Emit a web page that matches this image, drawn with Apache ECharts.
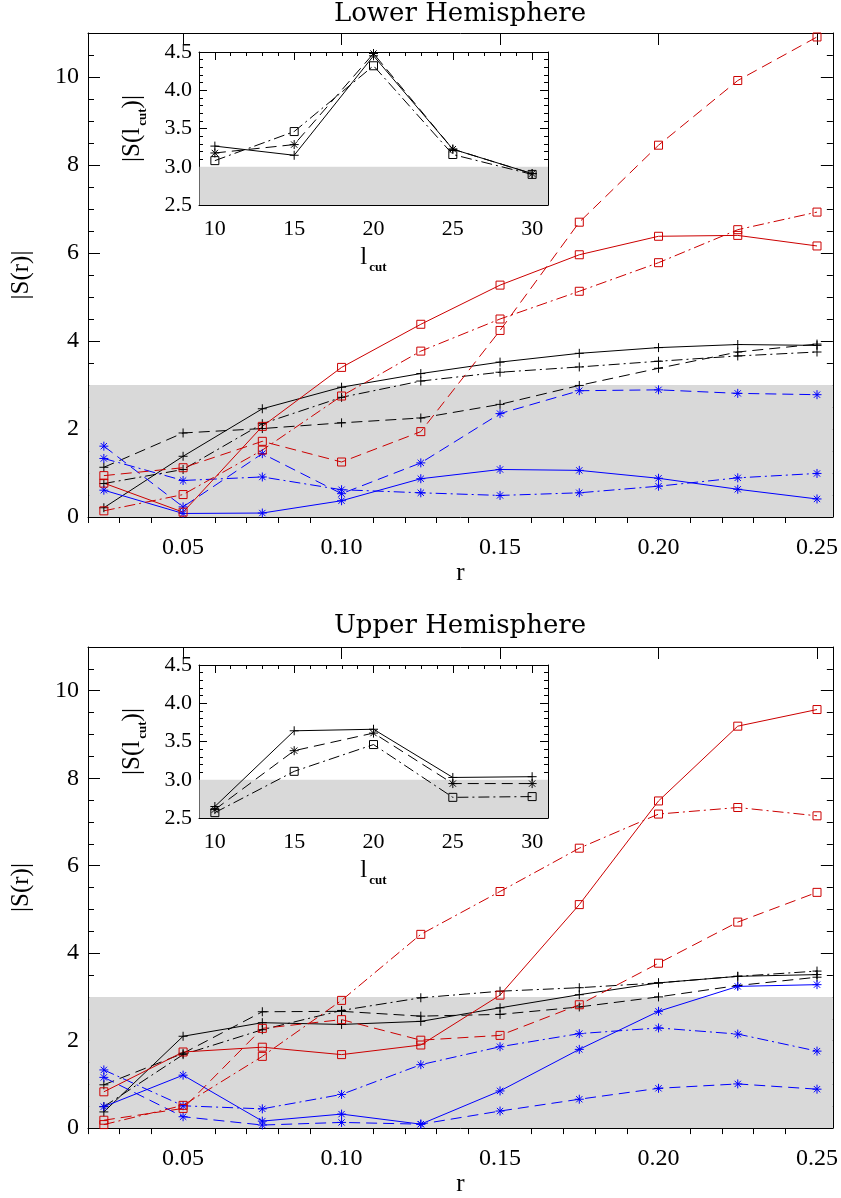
<!DOCTYPE html>
<html>
<head>
<meta charset="utf-8">
<script src="https://cdn.jsdelivr.net/npm/echarts@6/dist/echarts.min.js"></script>
<style>
  html, body { margin: 0; padding: 0; background: #fff; }
  #chart { width: 841px; height: 1198px; }
</style>
</head>
<body>
<div id="chart"></div>
<script>
// Radial positions and l_cut values
const rValues = [0.025, 0.05, 0.075, 0.1, 0.125, 0.15, 0.175, 0.2, 0.225, 0.25];
const lcutValues = [10, 15, 20, 25, 30];

// Lower hemisphere |S(r)|
const lowerBlackSolid   = [0.21, 1.38, 2.46, 2.95, 3.26, 3.52, 3.72, 3.85, 3.92, 3.90];
const lowerBlackDashed  = [1.13, 1.91, 2.01, 2.14, 2.25, 2.56, 2.99, 3.38, 3.75, 3.93];
const lowerBlackDashDot = [0.76, 1.08, 2.12, 2.72, 3.09, 3.29, 3.41, 3.54, 3.66, 3.75];
const lowerBlueSolid    = [0.61, 0.08, 0.09, 0.37, 0.87, 1.08, 1.06, 0.88, 0.63, 0.41];
const lowerBlueDashed   = [1.61, 0.23, 1.44, 0.53, 1.23, 2.35, 2.87, 2.89, 2.81, 2.78];
const lowerBlueDashDot  = [1.33, 0.83, 0.91, 0.62, 0.55, 0.49, 0.55, 0.70, 0.89, 0.99];
const lowerRedSolid     = [0.77, 0.11, 2.06, 3.40, 4.38, 5.27, 5.96, 6.38, 6.40, 6.16];
const lowerRedDashed    = [0.94, 1.12, 1.72, 1.25, 1.94, 4.24, 6.70, 8.45, 9.92, 10.91];
const lowerRedDashDot   = [0.14, 0.51, 1.52, 2.75, 3.77, 4.50, 5.13, 5.78, 6.53, 6.93];

// Upper hemisphere |S(r)|
const upperBlackSolid   = [0.37, 2.10, 2.41, 2.37, 2.44, 2.75, 3.05, 3.32, 3.47, 3.51];
const upperBlackDashed  = [0.99, 1.71, 2.66, 2.67, 2.56, 2.60, 2.77, 3.00, 3.26, 3.45];
const upperBlackDashDot = [0.49, 1.68, 2.25, 2.69, 2.98, 3.13, 3.21, 3.32, 3.47, 3.59];
const upperBlueSolid    = [0.49, 1.21, 0.16, 0.32, 0.09, 0.85, 1.80, 2.67, 3.24, 3.28];
const upperBlueDashed   = [1.16, 0.26, 0.07, 0.13, 0.09, 0.39, 0.66, 0.91, 1.01, 0.89];
const upperBlueDashDot  = [1.33, 0.51, 0.44, 0.77, 1.45, 1.86, 2.16, 2.29, 2.15, 1.76];
const upperRedSolid     = [0.83, 1.74, 1.85, 1.68, 1.90, 3.04, 5.11, 7.48, 9.19, 9.57];
const upperRedDashed    = [0.18, 0.45, 2.28, 2.48, 2.01, 2.12, 2.82, 3.77, 4.71, 5.39];
const upperRedDashDot   = [0.08, 0.52, 1.64, 2.92, 4.43, 5.41, 6.40, 7.18, 7.33, 7.14];

// |S(l_cut)| insets
const lowerInsetSolid   = [3.27, 3.15, 4.45, 3.23, 2.91];
const lowerInsetDashed  = [3.18, 3.29, 4.48, 3.23, 2.91];
const lowerInsetDashDot = [3.08, 3.46, 4.32, 3.16, 2.90];
const upperInsetSolid   = [2.65, 3.64, 3.66, 3.03, 3.04];
const upperInsetDashed  = [2.61, 3.38, 3.61, 2.95, 2.95];
const upperInsetDashDot = [2.57, 3.11, 3.46, 2.77, 2.78];

// Tick values
const rMajorTicks = [0.05, 0.10, 0.15, 0.20, 0.25];
const rMinorTicks = [0.02, 0.03, 0.04, 0.06, 0.07, 0.08, 0.09, 0.11, 0.12, 0.13, 0.14,
                     0.16, 0.17, 0.18, 0.19, 0.21, 0.22, 0.23, 0.24];
const sMajorTicks = [0, 2, 4, 6, 8, 10];
const sMinorTicks = [0.5, 1, 1.5, 2.5, 3, 3.5, 4.5, 5, 5.5, 6.5, 7, 7.5, 8.5, 9, 9.5, 10.5];
const lcutMajorTicks = [10, 15, 20, 25, 30];
const lcutMinorTicks = [9, 11, 12, 13, 14, 16, 17, 18, 19, 21, 22, 23, 24, 26, 27, 28, 29, 31];
const insetMajorTicks = [2.5, 3.0, 3.5, 4.0, 4.5];
const insetMinorTicks = [2.6, 2.7, 2.8, 2.9, 3.1, 3.2, 3.3, 3.4, 3.6, 3.7, 3.8, 3.9, 4.1, 4.2, 4.3, 4.4];

const FONT = 'Liberation Serif';
const TITLE_FONT = 'DejaVu Serif';
const RED = '#cc0000', BLUE = '#0000ff', BLACK = '#000000', BAND = '#d9d9d9';
const DASHED = [11, 6];
const DASHDOT = [11, 4, 2, 4];

const R_RANGE = [0.02, 0.255], S_RANGE = [0, 11];
const L_RANGE = [9, 31], SI_RANGE = [2.5, 4.5];

// Marker shapes
const PLUS = 'path://M5,0L5,10M0,5L10,5';
const STAR = 'path://M5,0L5,10M0,5L10,5M1.5,1.5L8.5,8.5M1.5,8.5L8.5,1.5';
const SQUARE = 'rect';

const grids = [
  { left: 88, top: 33, width: 745, height: 484 },
  { left: 199, top: 52, width: 349, height: 153, show: true, backgroundColor: '#fff', borderWidth: 0 },
  { left: 88, top: 647, width: 745, height: 483 },
  { left: 199, top: 665, width: 349, height: 153, show: true, backgroundColor: '#fff', borderWidth: 0 }
];

const xAxes = [], yAxes = [];

// Four axes per dimension: labelled side (major + minor ticks) and mirrored side.
function addAxes(list, gridIndex, sides, range, major, minor, tickLen, labelOpt, nameOpt) {
  const base = { gridIndex, type: 'value', min: range[0], max: range[1],
                 splitLine: { show: false }, axisPointer: { show: false } };
  const lineOn = { show: true, onZero: false, lineStyle: { color: '#000', width: 1 } };
  const tick = (vals, len) => ({ show: true, inside: true, length: len, customValues: vals,
                                 lineStyle: { color: '#000', width: 1 } });
  const primary = list.length;
  list.push(Object.assign({}, base, {
    position: sides[0], axisLine: lineOn, axisTick: tick(major, tickLen[0]),
    axisLabel: Object.assign({ show: true, customValues: major, color: '#000', fontFamily: FONT }, labelOpt)
  }, nameOpt || {}));
  list.push(Object.assign({}, base, {
    position: sides[0], axisLine: { show: false }, axisTick: tick(minor, tickLen[1]), axisLabel: { show: false }
  }));
  list.push(Object.assign({}, base, {
    position: sides[1], axisLine: lineOn, axisTick: tick(major, tickLen[0]), axisLabel: { show: false }
  }));
  list.push(Object.assign({}, base, {
    position: sides[1], axisLine: { show: false }, axisTick: tick(minor, tickLen[1]), axisLabel: { show: false }
  }));
  return primary;
}

const nameText = { color: '#000', fontFamily: FONT, fontSize: 25 };
const insetName = {
  rich: {
    m: { fontFamily: FONT, fontSize: 25, color: '#000', lineHeight: 25, verticalAlign: 'top' },
    s: { fontFamily: FONT, fontSize: 13, fontWeight: 'bold', color: '#000', lineHeight: 13,
         verticalAlign: 'top', padding: [16, 0, 0, 2] }
  }
};

function mainAxes(gridIndex, labelMargin, nameGapX) {
  const xi = addAxes(xAxes, gridIndex, ['bottom', 'top'], R_RANGE, rMajorTicks, rMinorTicks, [12, 6],
    { fontSize: 24, margin: labelMargin, formatter: v => v.toFixed(2) },
    { name: 'r', nameLocation: 'middle', nameGap: nameGapX, nameTextStyle: nameText });
  const yi = addAxes(yAxes, gridIndex, ['left', 'right'], S_RANGE, sMajorTicks, sMinorTicks, [12, 6],
    { fontSize: 24, margin: 9, formatter: v => String(v) },
    { name: '|S(r)|', nameLocation: 'middle', nameGap: 54, nameRotate: 90, nameTextStyle: nameText });
  return [xi, yi];
}

function insetAxes(gridIndex) {
  const xi = addAxes(xAxes, gridIndex, ['bottom', 'top'], L_RANGE, lcutMajorTicks, lcutMinorTicks, [8, 4],
    { fontSize: 22, margin: 13, formatter: v => String(v) },
    { name: '{m|l}{s|cut}', nameLocation: 'middle', nameGap: 40, nameTextStyle: insetName });
  const yi = addAxes(yAxes, gridIndex, ['left', 'right'], SI_RANGE, insetMajorTicks, insetMinorTicks, [8, 4],
    { fontSize: 22, margin: 7, formatter: v => v.toFixed(1) },
    { name: '{m||S(l}{s|cut}{m|)|}', nameLocation: 'middle', nameGap: 54, nameRotate: 90,
      nameTextStyle: insetName });
  return [xi, yi];
}

const [lowX, lowY] = mainAxes(0, 19, 42);
const [lowIX, lowIY] = insetAxes(1);
const [upX, upY] = mainAxes(2, 19, 42);
const [upIX, upIY] = insetAxes(3);

function curve(xi, yi, xs, ys, color, dash, symbol) {
  const square = symbol === SQUARE;
  return {
    type: 'line', xAxisIndex: xi, yAxisIndex: yi, z: 3,
    data: xs.map((x, i) => [x, ys[i]]),
    symbol: symbol, symbolSize: square ? 8 : 9, showSymbol: true,
    lineStyle: { color: color, width: 1, type: dash },
    itemStyle: { color: square ? 'rgba(0,0,0,0)' : color, borderColor: color, borderWidth: 1 },
    emphasis: { disabled: true }, silent: true, animation: false
  };
}

function band(xi, yi, xr, y0, y1) {
  return {
    type: 'line', xAxisIndex: xi, yAxisIndex: yi, z: 1, data: [], silent: true, animation: false,
    markArea: { silent: true, animation: false, itemStyle: { color: BAND, borderWidth: 0 },
      data: [[{ xAxis: xr[0] + (xr[1] - xr[0]) * 0.0015, yAxis: y0 }, { xAxis: xr[1], yAxis: y1 }]] }
  };
}

const series = [
  band(lowX, lowY, R_RANGE, 0, 3),
  curve(lowX, lowY, rValues, lowerBlackSolid, BLACK, 'solid', PLUS),
  curve(lowX, lowY, rValues, lowerBlackDashed, BLACK, DASHED, PLUS),
  curve(lowX, lowY, rValues, lowerBlackDashDot, BLACK, DASHDOT, PLUS),
  curve(lowX, lowY, rValues, lowerBlueSolid, BLUE, 'solid', STAR),
  curve(lowX, lowY, rValues, lowerBlueDashed, BLUE, DASHED, STAR),
  curve(lowX, lowY, rValues, lowerBlueDashDot, BLUE, DASHDOT, STAR),
  curve(lowX, lowY, rValues, lowerRedSolid, RED, 'solid', SQUARE),
  curve(lowX, lowY, rValues, lowerRedDashed, RED, DASHED, SQUARE),
  curve(lowX, lowY, rValues, lowerRedDashDot, RED, DASHDOT, SQUARE),

  band(lowIX, lowIY, L_RANGE, 2.5, 3.0),
  curve(lowIX, lowIY, lcutValues, lowerInsetSolid, BLACK, 'solid', PLUS),
  curve(lowIX, lowIY, lcutValues, lowerInsetDashed, BLACK, DASHED, STAR),
  curve(lowIX, lowIY, lcutValues, lowerInsetDashDot, BLACK, DASHDOT, SQUARE),

  band(upX, upY, R_RANGE, 0, 3),
  curve(upX, upY, rValues, upperBlackSolid, BLACK, 'solid', PLUS),
  curve(upX, upY, rValues, upperBlackDashed, BLACK, DASHED, PLUS),
  curve(upX, upY, rValues, upperBlackDashDot, BLACK, DASHDOT, PLUS),
  curve(upX, upY, rValues, upperBlueSolid, BLUE, 'solid', STAR),
  curve(upX, upY, rValues, upperBlueDashed, BLUE, DASHED, STAR),
  curve(upX, upY, rValues, upperBlueDashDot, BLUE, DASHDOT, STAR),
  curve(upX, upY, rValues, upperRedSolid, RED, 'solid', SQUARE),
  curve(upX, upY, rValues, upperRedDashed, RED, DASHED, SQUARE),
  curve(upX, upY, rValues, upperRedDashDot, RED, DASHDOT, SQUARE),

  band(upIX, upIY, L_RANGE, 2.5, 3.0),
  curve(upIX, upIY, lcutValues, upperInsetSolid, BLACK, 'solid', PLUS),
  curve(upIX, upIY, lcutValues, upperInsetDashed, BLACK, DASHED, STAR),
  curve(upIX, upIY, lcutValues, upperInsetDashDot, BLACK, DASHDOT, SQUARE)
];

const titleStyle = { fontFamily: TITLE_FONT, fontSize: 26, fontWeight: 'normal', color: '#000' };

const chart = echarts.init(document.getElementById('chart'), null, { renderer: 'canvas' });
chart.setOption({
  animation: false,
  backgroundColor: '#fff',
  title: [
    { text: 'Lower Hemisphere', left: 460, top: 1, textAlign: 'center', padding: 0, textStyle: titleStyle },
    { text: 'Upper Hemisphere', left: 460, top: 613, textAlign: 'center', padding: 0, textStyle: titleStyle }
  ],
  grid: grids,
  xAxis: xAxes,
  yAxis: yAxes,
  series: series
});
</script>
</body>
</html>
